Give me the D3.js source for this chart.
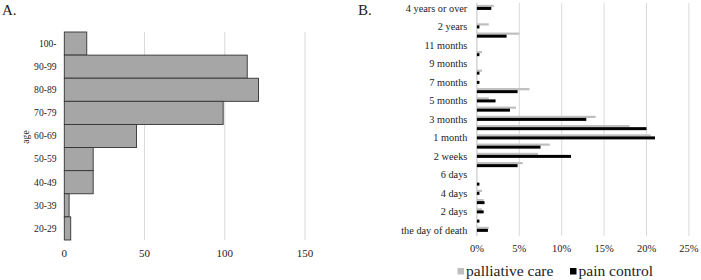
<!DOCTYPE html>
<html>
<head>
<meta charset="utf-8">
<script src="https://cdn.jsdelivr.net/npm/d3@7/dist/d3.min.js"></script>
<style>
  html, body { margin: 0; padding: 0; background: #fff; }
  svg { display: block; }
  svg text { font-family: "Liberation Serif", "Times New Roman", Times, serif; }
</style>
</head>
<body>
<svg id="chart" width="701" height="280"></svg>
<script>
// ---------- Panel A data ----------
const ageGroups = ["100-", "90-99", "80-89", "70-79", "60-69", "50-59", "40-49", "30-39", "20-29"];
const ageCounts = [14, 114, 121, 99, 45, 18, 18, 3, 4];
const ageTicks = [0, 50, 100, 150];

// ---------- Panel B data ----------
const periods = ["the day of death", "1 day", "2 days", "3 days", "4 days", "5 days", "6 days",
  "1 week", "2 weeks", "3 weeks", "1 month", "2 months", "3 months", "4 months", "5 months",
  "6 months", "7 months", "8 months", "9 months", "10 months", "11 months", "1 year",
  "2 years", "3 years", "4 years or over"];
const palliativeCare = [1.4, 0, 0.6, 0.8, 0.6, 0, 0, 5.4, 7.2, 8.6, 20.5, 18.0, 14.0, 4.6, 1.4,
  6.2, 0, 0.6, 0, 0.6, 0, 5.0, 1.4, 0, 2.0];
const painControl = [1.3, 0.3, 0.8, 0.9, 0.3, 0.3, 0, 4.8, 11.1, 7.5, 21.0, 20.0, 12.9, 3.9, 2.2,
  4.8, 0.3, 0.3, 0, 0.3, 0, 3.5, 0.3, 0, 1.7];
const pctTicks = [0, 5, 10, 15, 20, 25];
const seriesNames = ["palliative care", "pain control"];

const FONT = "Liberation Serif";
const svg = d3.select("#chart");

// ================= Panel A =================
const xA = d3.scaleLinear().domain([0, 150]).range([64.3, 305]);
const yA = d3.scaleBand().domain(ageGroups).range([32, 240]).padding(0);

const gA = svg.append("g");
gA.selectAll("line.grid").data(ageTicks.filter(d => d > 0)).join("line")
  .attr("x1", d => xA(d)).attr("x2", d => xA(d))
  .attr("y1", 32).attr("y2", 240)
  .attr("stroke", "#d9d9d9").attr("stroke-width", 1);

gA.selectAll("rect").data(ageGroups).join("rect")
  .attr("x", xA(0))
  .attr("y", d => yA(d))
  .attr("width", (d, i) => xA(ageCounts[i]) - xA(0))
  .attr("height", yA.bandwidth())
  .attr("fill", "#a6a6a6")
  .attr("stroke", "#333")
  .attr("stroke-width", 0.9);

gA.selectAll("text.cat").data(ageGroups).join("text")
  .attr("class", "cat")
  .attr("font-family", FONT)
  .attr("x", 56.5)
  .attr("y", d => yA(d) + yA.bandwidth() / 2 + 3.3)
  .attr("text-anchor", "end")
  .attr("font-size", "9.6px")
  .attr("fill", "#222")
  .text(d => d);

gA.selectAll("text.tick").data(ageTicks).join("text")
  .attr("class", "tick")
  .attr("font-family", FONT)
  .attr("x", d => xA(d))
  .attr("y", 257)
  .attr("text-anchor", "middle")
  .attr("font-size", "11px")
  .attr("fill", "#222")
  .text(d => d);

gA.append("text")
  .attr("font-family", FONT)
  .attr("transform", "translate(29,137) rotate(-90)")
  .attr("text-anchor", "middle")
  .attr("font-size", "9.6px")
  .attr("fill", "#222")
  .text("age");

svg.append("text").attr("font-family", FONT).attr("x", 2).attr("y", 14.5)
  .attr("font-size", "15px").attr("fill", "#222").text("A.");

// ================= Panel B =================
const xB = d3.scaleLinear().domain([0, 25]).range([476.9, 688.9]);
const yB = d3.scaleBand().domain(periods.slice().reverse()).range([2.8, 234.0]).padding(0);

const gB = svg.append("g");
gB.selectAll("line.grid").data(pctTicks.filter(d => d > 0)).join("line")
  .attr("x1", d => xB(d)).attr("x2", d => xB(d))
  .attr("y1", 2.8).attr("y2", 236)
  .attr("stroke", "#d9d9d9").attr("stroke-width", 1);
gB.append("line")
  .attr("x1", xB(0)).attr("x2", xB(0))
  .attr("y1", 2.8).attr("y2", 236)
  .attr("stroke", "#bfbfbf").attr("stroke-width", 1);

const bandC = d => yB(d) + yB.bandwidth() / 2;

gB.selectAll("rect.pc").data(periods).join("rect")
  .attr("class", "pc")
  .attr("x", xB(0))
  .attr("y", d => bandC(d) - 2.6)
  .attr("width", (d, i) => xB(palliativeCare[i]) - xB(0))
  .attr("height", 2.2)
  .attr("fill", "#bfbfbf");

gB.selectAll("rect.pain").data(periods).join("rect")
  .attr("class", "pain")
  .attr("x", xB(0))
  .attr("y", d => bandC(d) - 0.5)
  .attr("width", (d, i) => xB(painControl[i]) - xB(0))
  .attr("height", 3)
  .attr("fill", "#000");

gB.selectAll("text.cat").data(periods.filter((d, i) => i % 2 === 0)).join("text")
  .attr("class", "cat")
  .attr("font-family", FONT)
  .attr("x", 467.3)
  .attr("y", d => bandC(d) + 4.4)
  .attr("text-anchor", "end")
  .attr("font-size", "10.3px")
  .attr("fill", "#222")
  .text(d => d);

gB.selectAll("text.tick").data(pctTicks).join("text")
  .attr("class", "tick")
  .attr("font-family", FONT)
  .attr("x", d => xB(d))
  .attr("y", 252)
  .attr("text-anchor", "middle")
  .attr("font-size", "10.5px")
  .attr("fill", "#222")
  .text(d => d + "%");

svg.append("text").attr("font-family", FONT).attr("x", 358).attr("y", 14.5)
  .attr("font-size", "15px").attr("fill", "#222").text("B.");

// legend
const legend = svg.append("g");
const legX = [457.5, 570];
const legColors = ["#bfbfbf", "#000"];
seriesNames.forEach((name, i) => {
  legend.append("rect").attr("x", legX[i]).attr("y", 268).attr("width", 6.5).attr("height", 6.5)
    .attr("fill", legColors[i]);
  legend.append("text").attr("font-family", FONT).attr("x", legX[i] + 8.5).attr("y", 275.5)
    .attr("font-size", "15.5px").attr("fill", "#222").text(name);
});
</script>
</body>
</html>
